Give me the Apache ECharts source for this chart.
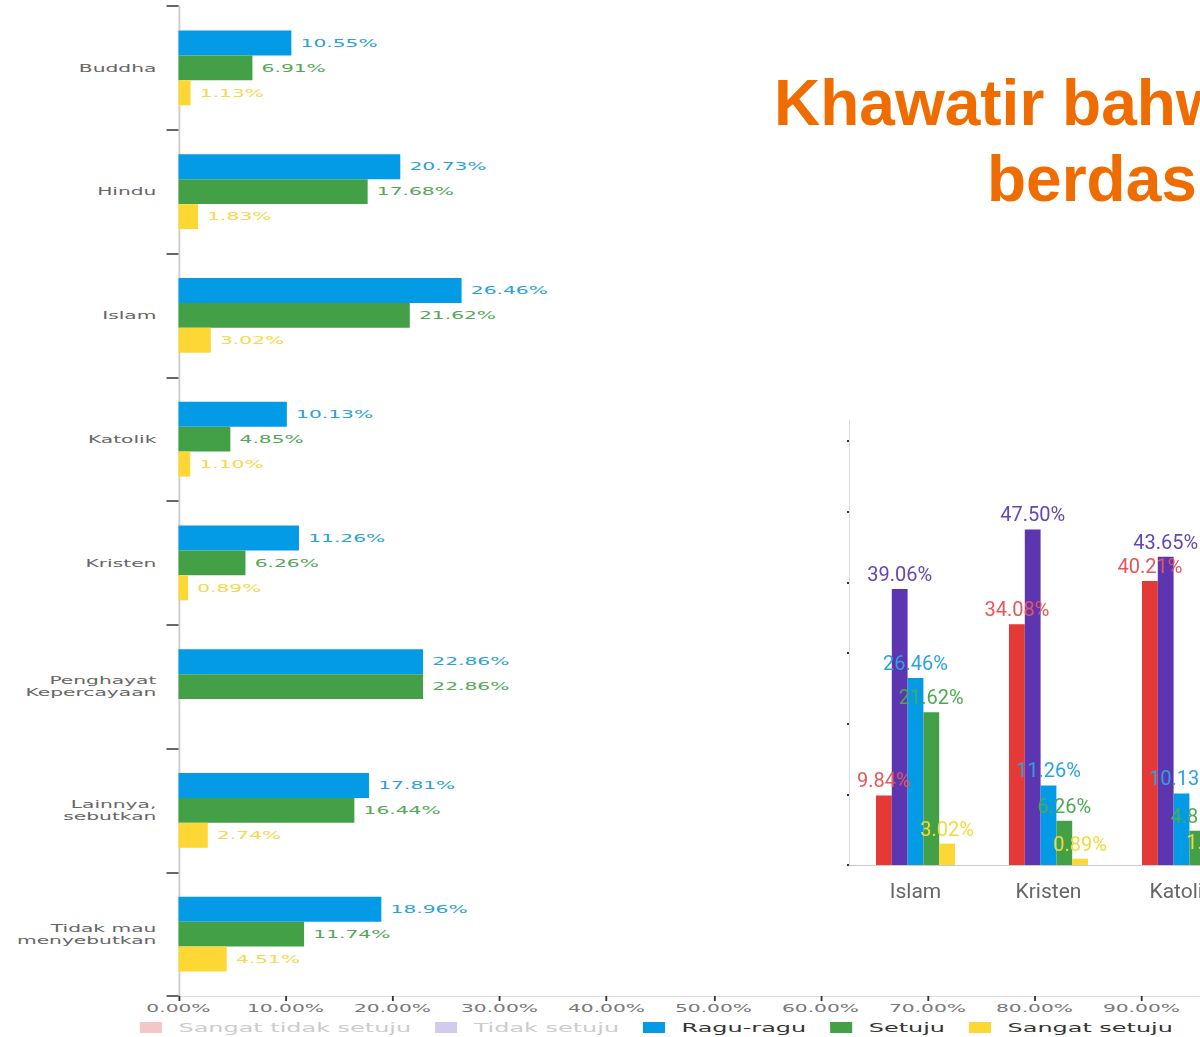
<!DOCTYPE html>
<html>
<head>
<meta charset="utf-8">
<script src="https://cdn.jsdelivr.net/npm/echarts@6/dist/echarts.min.js"></script>
<style>
html, body { margin: 0; padding: 0; background: #fff; overflow: hidden; }
#main { position: absolute; left: 0; top: 0; width: 652px; height: 1037px; transform: scaleX(1.84); transform-origin: 0 0; }
#inset { position: absolute; left: 0; top: 0; width: 1200px; height: 1037px; }
</style>
</head>
<body>
<div id="main"></div>
<div id="inset"></div>
<script>
// main horizontal chart
const religions = ['Buddha', 'Hindu', 'Islam', 'Katolik', 'Kristen', 'Penghayat\nKepercayaan', 'Lainnya,\nsebutkan', 'Tidak mau\nmenyebutkan'];
const raguRagu = [10.55, 20.73, 26.46, 10.13, 11.26, 22.86, 17.81, 18.96];
const setuju = [6.91, 17.68, 21.62, 4.85, 6.26, 22.86, 16.44, 11.74];
const sangatSetuju = [1.13, 1.83, 3.02, 1.10, 0.89, null, 2.74, 4.51];
const legendNames = ['Sangat tidak setuju', 'Tidak setuju', 'Ragu-ragu', 'Setuju', 'Sangat setuju'];

// inset column chart
const insetCats = ['Islam', 'Kristen', 'Katolik'];
const insetSangatTidak = [9.84, 34.08, 40.21];
const insetTidak = [39.06, 47.50, 43.65];
const insetRagu = [26.46, 11.26, 10.13];
const insetSetuju = [21.62, 6.26, 4.85];
const insetSangat = [3.02, 0.89, 1.10];

const font = 'DejaVu Sans';
const pct = p => (p.value == null ? '' : p.value.toFixed(2) + '%');

function hbar(name, data, color, labelColor) {
    return {
        name: name,
        type: 'bar',
        data: data,
        color: color,
        barGap: '0%',
        barCategoryGap: '39.5%',
        label: {
            show: true, position: 'right', distance: 5,
            formatter: pct, color: labelColor, fontFamily: font, fontSize: 11
        }
    };
}

const mainChart = echarts.init(document.getElementById('main'), null, { renderer: 'svg' });
mainChart.setOption({
    animation: false,
    backgroundColor: '#fff',
    grid: { left: 97, top: 6, width: 581.5, height: 990, outerBoundsMode: 'none' },
    legend: {
        left: 71, top: 1016,
        icon: 'rect', itemWidth: 12, itemHeight: 11, itemGap: 13,
        textStyle: { fontFamily: font, fontSize: 13, color: '#333', padding: [0, 0, 0, 4] },
        data: [
            { name: legendNames[0], textStyle: { color: '#ccc' } },
            { name: legendNames[1], textStyle: { color: '#ccc' } },
            legendNames[2], legendNames[3], legendNames[4]
        ]
    },
    xAxis: {
        type: 'value', min: 0, max: 100, interval: 10,
        axisLine: { show: true, lineStyle: { color: '#ddd' } },
        axisTick: { show: true, length: 5, lineStyle: { color: '#333' } },
        splitLine: { show: false },
        axisLabel: { formatter: v => v.toFixed(2) + '%', color: '#777', fontFamily: font, fontSize: 11, margin: 7 }
    },
    yAxis: {
        type: 'category', data: religions, inverse: true,
        axisLine: { show: true, lineStyle: { color: '#ccc' } },
        axisTick: { show: true, length: 6.5, lineStyle: { color: '#333', width: 1.5 } },
        axisLabel: { color: '#666', fontFamily: font, fontSize: 11, lineHeight: 12, margin: 12 }
    },
    series: [
        { name: legendNames[0], type: 'line', data: [], color: '#f5c6c6' },
        { name: legendNames[1], type: 'line', data: [], color: '#d3cbed' },
        hbar(legendNames[2], raguRagu, '#039be5', '#2ba1db'),
        hbar(legendNames[3], setuju, '#43a047', '#52a856'),
        hbar(legendNames[4], sangatSetuju, '#fdd835', '#f6d84c')
    ]
});

function vbar(name, data, color, labelColor) {
    return {
        name: name,
        type: 'bar',
        data: data,
        color: color,
        barGap: '0%',
        barCategoryGap: '40.6%',
        label: {
            show: true, position: 'top', distance: 3,
            formatter: pct, color: labelColor, fontFamily: 'Roboto', fontSize: 20
        }
    };
}

const insetChart = echarts.init(document.getElementById('inset'));
insetChart.setOption({
    animation: false,
    title: [
        { text: 'Khawatir bahw', left: 769, top: 70, textStyle: { fontFamily: 'Liberation Sans', fontWeight: 'bold', fontSize: 64, color: '#ef6c00' } },
        { text: 'berdas', left: 982, top: 146, textStyle: { fontFamily: 'Liberation Sans', fontWeight: 'bold', fontSize: 64, color: '#ef6c00' } }
    ],
    grid: { left: 849, top: 420, width: 399, height: 445, outerBoundsMode: 'none' },
    xAxis: {
        type: 'category', data: insetCats,
        axisLine: { lineStyle: { color: '#ccc' } },
        axisTick: { length: 12, lineStyle: { color: '#333' } },
        axisLabel: { color: '#666', fontFamily: 'Roboto', fontSize: 21, margin: 17 }
    },
    yAxis: {
        type: 'value', min: 0, max: 63,
        axisLine: { show: true, lineStyle: { color: '#ddd' } },
        axisTick: { show: true, length: 2, customValues: [0, 10, 20, 30, 40, 50, 60], lineStyle: { color: '#333', width: 2 } },
        axisLabel: { show: false },
        splitLine: { show: false }
    },
    series: [
        vbar('Sangat tidak setuju', insetSangatTidak, '#e53935', '#e8555a'),
        vbar('Tidak setuju', insetTidak, '#5e35b1', '#6447b4'),
        vbar('Ragu-ragu', insetRagu, '#039be5', '#2ca3e0'),
        vbar('Setuju', insetSetuju, '#43a047', '#4caa50'),
        vbar('Sangat setuju', insetSangat, '#fdd835', '#f0da40')
    ]
});
</script>
</body>
</html>
